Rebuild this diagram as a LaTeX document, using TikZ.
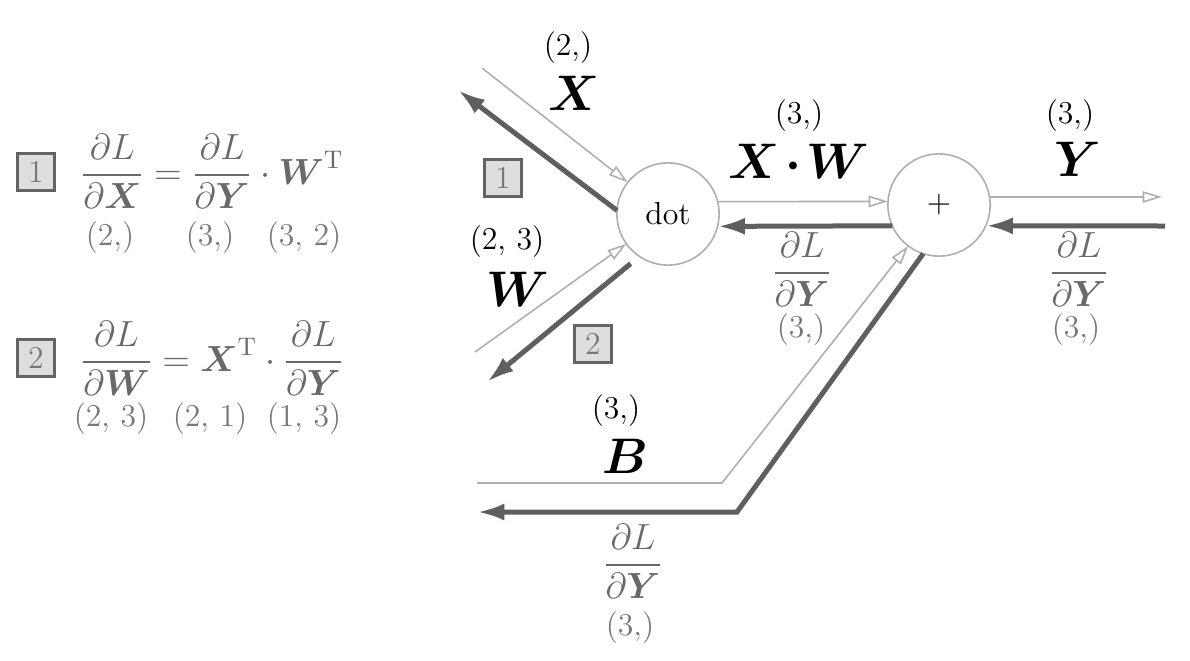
\RequirePackage{fix-cm}
\documentclass[tikz,border=0pt]{standalone}
\usepackage{amsmath,bm}
\usetikzlibrary{arrows.meta}
\definecolor{lightc}{RGB}{175,175,175}
\definecolor{darkc}{RGB}{95,95,95}
\definecolor{fracc}{RGB}{105,105,105}
\definecolor{labc}{RGB}{120,120,120}
\definecolor{boxfill}{RGB}{222,222,222}
\definecolor{boxdraw}{RGB}{100,100,100}
\tikzset{
 op/.style={circle, draw=lightc, line width=0.7pt, fill=white, minimum size=45pt, inner sep=0pt, outer sep=0pt, font=\fontsize{14}{16}\selectfont},
 fwd/.style={draw=lightc, line width=0.7pt, -{Triangle[open, length=8.5pt, width=5pt]}},
 bwd/.style={draw=darkc, line width=2.2pt, -{Latex[length=12pt, width=7.5pt]}},
 shp/.style={font=\fontsize{14}{16}\selectfont, inner sep=0pt},
 var/.style={font=\fontsize{22}{26}\selectfont, inner sep=0pt},
 grad/.style={text=fracc, font=\fontsize{16}{19}\selectfont, inner sep=0pt, anchor=base},
 glab/.style={text=labc, font=\fontsize{14}{16}\selectfont, inner sep=0pt},
 numbox/.style={draw=boxdraw, fill=boxfill, line width=1.3pt, minimum size=16pt, inner sep=0pt, text=labc, font=\fontsize{14}{16}\selectfont},
}
\begin{document}
\begin{tikzpicture}[x=0.44pt,y=-0.44pt]
\useasboundingbox (0,0) rectangle (1190,660);

% left equations
\node[numbox] (b1l) at (36,172) {1};
\node[grad] (eq1) at (212,184) {$\displaystyle \frac{\partial L}{\partial \bm{X}} = \frac{\partial L}{\partial \bm{Y}}\cdot \bm{W}^{\mathrm{T}}$};
\node[glab] (e1a) at (110,238) {(2,)};
\node[glab] (e1b) at (210,238) {(3,)};
\node[glab] (e1c) at (304,238) {(3, 2)};

\node[numbox] (b2l) at (36,358) {2};
\node[grad] (eq2) at (212,371) {$\displaystyle \frac{\partial L}{\partial \bm{W}} = \bm{X}^{\mathrm{T}}\cdot \frac{\partial L}{\partial \bm{Y}}$};
\node[glab] (e2a) at (111,419) {(2, 3)};
\node[glab] (e2b) at (210,419) {(2, 1)};
\node[glab] (e2c) at (304,419) {(1, 3)};

% nodes
\node[op] (dot) at (668,214) {dot};
\node[op] (plus) at (939,205) {$+$};

% free ends
\coordinate (xin) at (482,68);
\coordinate (xout) at (458,90);
\coordinate (win) at (475,352);
\coordinate (wout) at (487,382);
\coordinate (yout) at (1162,197);
\coordinate (yin) at (1165,226);
\coordinate (bin) at (477,483);
\coordinate (bk1) at (722,483);
\coordinate (bout) at (477,512);
\coordinate (bk2) at (737,512);

% forward
\draw[fwd] (xin) -- (dot);
\draw[fwd] (win) -- (dot);
\draw[fwd] (dot.14) -- (plus.176);
\draw[fwd] (plus.9) -- (yout);
\draw[fwd] (bin) -- (bk1) -- (plus.233);

% backward
\draw[bwd] (dot.176) -- (xout);
\draw[bwd, shorten <=5pt] (dot.236) -- (wout);
\draw[bwd] (plus.204) -- (dot.346);
\draw[bwd] (yin) -- (plus.336);
\draw[bwd] (plus.252) -- (bk2) -- (bout);

% boxes
\node[numbox] (b1) at (503,178) {1};
\node[numbox] (b2) at (593,344) {2};

% variable labels
\node[shp] (sx) at (568,48) {(2,)};
\node[var] (vx) at (574,93) {$\bm{X}$};
\node[shp] (sw) at (507,242) {(2, 3)};
\node[var] (vw) at (518,289) {$\bm{W}$};
\node[shp] (sxw) at (799,116) {(3,)};
\node[var] (vxw) at (799,161) {$\bm{X}\mkern2mu\mathord{\bm{\cdot}}\mkern2mu\bm{W}$};
\node[shp] (sy) at (1070,116) {(3,)};
\node[var] (vy) at (1078,159) {$\bm{Y}$};
\node[shp] (sb) at (616,411) {(3,)};
\node[var] (vb) at (625,456) {$\bm{B}$};

% gradient labels
\node[grad] (g1) at (802,282) {$\displaystyle\frac{\partial L}{\partial \bm{Y}}$};
\node[glab] (g1s) at (801,330) {(3,)};
\node[grad] (g2) at (1079,282) {$\displaystyle\frac{\partial L}{\partial \bm{Y}}$};
\node[glab] (g2s) at (1076,330) {(3,)};
\node[grad] (g3) at (633,574) {$\displaystyle\frac{\partial L}{\partial \bm{Y}}$};
\node[glab] (g3s) at (630,628) {(3,)};
\end{tikzpicture}
\end{document}
